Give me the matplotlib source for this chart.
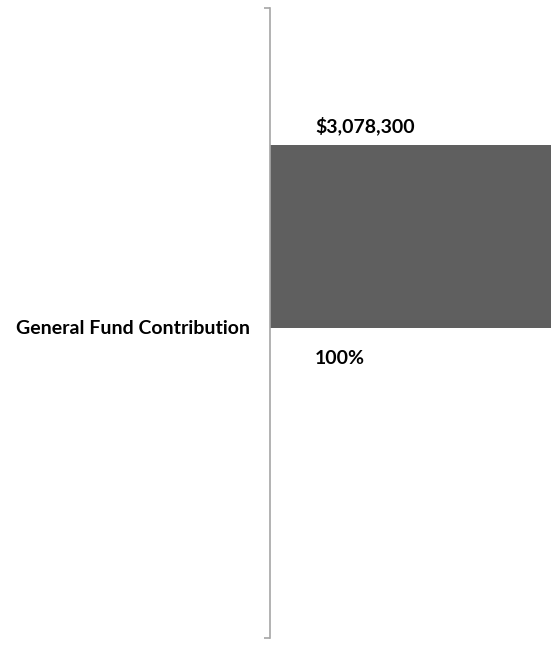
import matplotlib.pyplot as plt

categories = ["General Fund Contribution"]
amounts = [3078300]
shares = [100]

W, H = 551, 648
fig = plt.figure(figsize=(W / 100, H / 100), dpi=100)
ax = fig.add_axes([270 / W, 1 - 638 / H, 1 - 270 / W, 630 / H])

# bar sits in the upper part of the category band, as in the source chart
bar_bottom, bar_height = 0.492, 0.29
bars = ax.barh([bar_bottom], amounts, height=bar_height, align="edge",
               color="#5f5f5f", zorder=2)

ax.set_xlim(0, amounts[0])
ax.set_ylim(0, 1)

for rect, amount, share in zip(bars, amounts, shares):
    ax.annotate(f"${amount:,.0f}", (0, rect.get_y() + rect.get_height()),
                xytext=(45 * 0.72, 19 * 0.72), textcoords="offset points",
                ha="left", va="center", fontsize=14, fontweight="bold",
                family="Lato", annotation_clip=False)
    ax.annotate(f"{share}%", (0, rect.get_y()),
                xytext=(45 * 0.72, -30 * 0.72), textcoords="offset points",
                ha="left", va="center", fontsize=14, fontweight="bold",
                family="Lato", annotation_clip=False)

for side in ("top", "right", "bottom"):
    ax.spines[side].set_visible(False)
ax.spines["left"].set_color("#a6a6a6")
ax.spines["left"].set_linewidth(1.2)

ax.set_xticks([])
ax.set_yticks([0, 1])
ax.set_yticklabels([])
ax.tick_params(axis="y", which="major", length=4.5, width=1.2, color="#a6a6a6")
ax.set_yticks([0.494], minor=True)
ax.set_yticklabels(categories, minor=True, fontsize=14, fontweight="bold",
                   family="Lato")
ax.tick_params(axis="y", which="minor", length=0, pad=14.4)

fig.savefig("out.png", dpi=100)
